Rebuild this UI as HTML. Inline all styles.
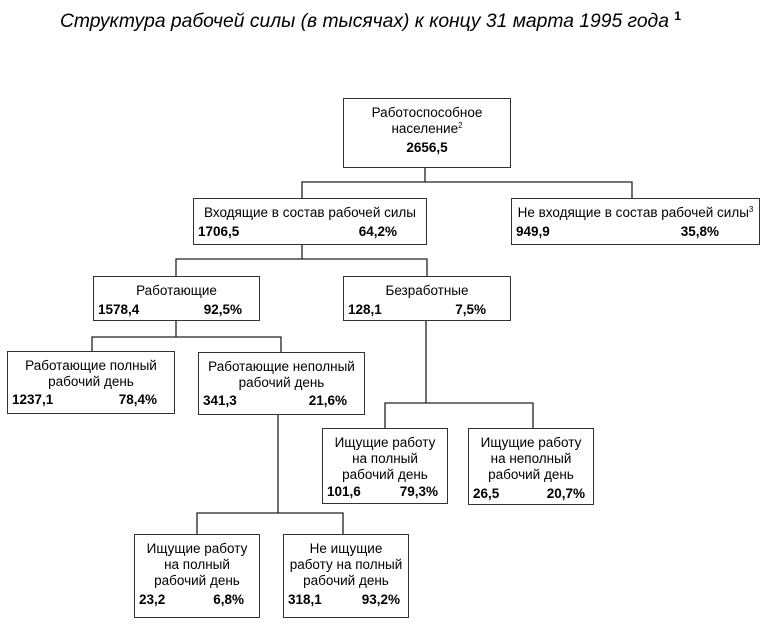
<!DOCTYPE html>
<html><head><meta charset="utf-8"><style>
body{margin:0;width:775px;height:633px;background:#fff;position:relative;overflow:hidden;font-family:"Liberation Sans",Arial,sans-serif;color:#000}
.title{position:absolute;left:60px;top:11px;font-size:19.3px;font-style:italic;white-space:nowrap}
.box{position:absolute;border:1.3px solid #333;box-sizing:border-box;background:#fff;font-size:13.5px;padding-top:6px}
.ln{text-align:center;line-height:16px;white-space:nowrap}
.num{display:flex;justify-content:space-between;font-weight:bold;line-height:18px;padding-left:4px;white-space:nowrap}
sup{font-size:8px;vertical-align:5px;line-height:0}
svg{position:absolute;left:0;top:0}
</style></head><body>
<div class="title">Структура рабочей силы (в тысячах) к концу 31 марта 1995 года <b style="font-style:normal"><sup style="font-size:12px;vertical-align:7px">1</sup></b></div>
<svg width="775" height="633">
<g stroke="#222" stroke-width="1.3" fill="none">
<path d="M425 167V182M302 198V182H632V198"/>
<path d="M302 245V259M176 276V259H427V276"/>
<path d="M176 321V337M92 351V337H281V352"/>
<path d="M426 321V403M385 428V403H533V428"/>
<path d="M278 415V513M197 534V513H343V534"/>
</g></svg>
<div class="box" style="left:343px;top:98px;width:168px;height:70px">
<div class="ln">Работоспособное</div><div class="ln">население<sup>2</sup></div>
<div class="num" style="justify-content:center;padding:2px 0 0 0">2656,5</div></div>
<div class="box" style="left:193px;top:198px;width:234px;height:47px">
<div class="ln">Входящие в состав рабочей силы</div>
<div class="num" style="padding-right:29px;padding-top:2px"><span>1706,5</span><span>64,2%</span></div></div>
<div class="box" style="left:511px;top:198px;width:249px;height:47px">
<div class="ln">Не входящие в состав рабочей силы<sup>3</sup></div>
<div class="num" style="padding-right:40px;padding-top:2px"><span>949,9</span><span>35,8%</span></div></div>
<div class="box" style="left:93px;top:276px;width:167px;height:45px">
<div class="ln">Работающие</div>
<div class="num" style="padding-right:17px;padding-top:2px"><span>1578,4</span><span>92,5%</span></div></div>
<div class="box" style="left:343px;top:276px;width:168px;height:45px">
<div class="ln">Безработные</div>
<div class="num" style="padding-right:24px;padding-top:2px"><span>128,1</span><span>7,5%</span></div></div>
<div class="box" style="left:7px;top:351px;width:168px;height:63px">
<div class="ln">Работающие полный</div><div class="ln">рабочий день</div>
<div class="num" style="padding-right:17px;padding-top:1px"><span>1237,1</span><span>78,4%</span></div></div>
<div class="box" style="left:198px;top:352px;width:167px;height:63px">
<div class="ln">Работающие неполный</div><div class="ln">рабочий день</div>
<div class="num" style="padding-right:17px;padding-top:1px"><span>341,3</span><span>21,6%</span></div></div>
<div class="box" style="left:322px;top:428px;width:126px;height:76px">
<div class="ln">Ищущие работу</div><div class="ln">на полный</div><div class="ln">рабочий день</div>
<div class="num" style="padding-right:9px"><span>101,6</span><span>79,3%</span></div></div>
<div class="box" style="left:468px;top:428px;width:126px;height:77px">
<div class="ln">Ищущие работу</div><div class="ln">на неполный</div><div class="ln">рабочий день</div>
<div class="num" style="padding-right:8px;padding-top:2px"><span>26,5</span><span>20,7%</span></div></div>
<div class="box" style="left:134px;top:534px;width:126px;height:84px">
<div class="ln">Ищущие работу</div><div class="ln">на полный</div><div class="ln">рабочий день</div>
<div class="num" style="padding-right:15px;padding-top:2px"><span>23,2</span><span>6,8%</span></div></div>
<div class="box" style="left:283px;top:534px;width:126px;height:84px">
<div class="ln">Не ищущие</div><div class="ln">работу на полный</div><div class="ln">рабочий день</div>
<div class="num" style="padding-right:8px;padding-top:2px"><span>318,1</span><span>93,2%</span></div></div>
</body></html>
